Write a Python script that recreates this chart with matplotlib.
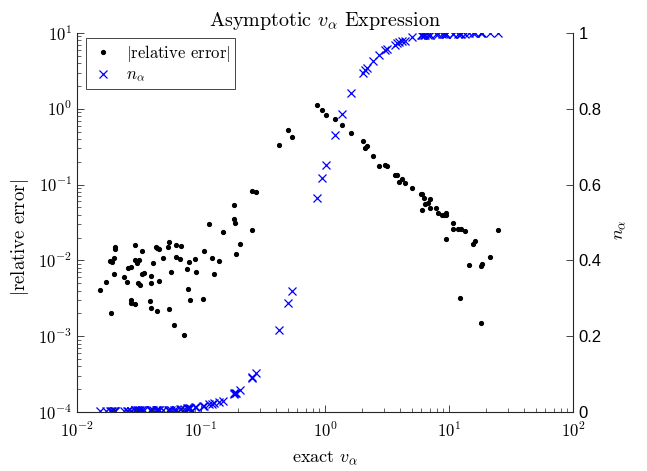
import numpy as np
import matplotlib
matplotlib.use('Agg')
import matplotlib.pyplot as plt
from matplotlib.ticker import FuncFormatter, LogLocator, NullFormatter, FixedLocator

plt.rcParams['mathtext.fontset'] = 'cm'

# exact v_alpha for each sample
v_exact = [
    0.01533, 0.01704, 0.01845, 0.01880, 0.01926, 0.01988, 0.01999, 0.02025, 0.02036, 0.02406,
    0.02544, 0.02577, 0.02710, 0.02725, 0.02730, 0.02919, 0.02935, 0.02953, 0.03031, 0.03122,
    0.03145, 0.03203, 0.03343, 0.03350, 0.03470, 0.03858, 0.03952, 0.03955, 0.03974, 0.04078,
    0.04335, 0.04441, 0.04445, 0.04558, 0.04609, 0.04910, 0.05418, 0.05551, 0.05555, 0.05760,
    0.06022, 0.06252, 0.06287, 0.06809, 0.06936, 0.07253, 0.07669, 0.07812, 0.08003, 0.08153,
    0.08944, 0.09062, 0.1032, 0.1057, 0.1160, 0.1220, 0.1273, 0.1389, 0.1505, 0.1836,
    0.1856, 0.1891, 0.1900, 0.2063, 0.2593, 0.2601, 0.2793, 0.4233, 0.5030, 0.5419,
    0.8572, 0.9458, 1.019, 1.204, 1.379, 1.630, 2.036, 2.101, 2.169, 2.452,
    2.741, 3.031, 3.145, 3.648, 3.807, 3.952, 4.178, 4.392, 5.003, 5.912,
    6.057, 6.090, 6.286, 6.440, 6.810, 7.028, 7.040, 7.857, 8.153, 8.780,
    9.165, 9.406, 9.458, 9.520, 10.71, 10.83, 11.82, 12.34, 12.50, 13.54,
    14.50, 15.53, 16.21, 18.12, 18.25, 18.35, 21.54, 24.70,
]

# |relative error| of the asymptotic expression
rel_err = [
    0.00407, 0.00524, 0.00982, 0.00200, 0.00953, 0.00668, 0.01076, 0.01414, 0.01489, 0.00610,
    0.00519, 0.00787, 0.00300, 0.00277, 0.00811, 0.01596, 0.01021, 0.00266, 0.00924, 0.00499,
    0.01003, 0.00469, 0.01330, 0.00662, 0.00676, 0.00294, 0.00628, 0.00499, 0.00233, 0.00924,
    0.01516, 0.01471, 0.00217, 0.00540, 0.01414, 0.01066, 0.01489, 0.01748, 0.00226, 0.00710,
    0.00141, 0.01119, 0.01611, 0.01053, 0.01563, 0.00104, 0.00770, 0.00423, 0.00944, 0.00298,
    0.01053, 0.00710, 0.00307, 0.01330, 0.03022, 0.01076, 0.00668, 0.00982, 0.02370, 0.03517,
    0.05331, 0.03087, 0.01215, 0.01631, 0.02541, 0.08234, 0.08060, 0.3361, 0.5301, 0.4283,
    1.133, 0.9730, 0.8283, 0.7269, 0.6113, 0.4751, 0.3726, 0.3067, 0.3200, 0.2384,
    0.1743, 0.1830, 0.1759, 0.1351, 0.1350, 0.1082, 0.1186, 0.1040, 0.0910, 0.0759,
    0.0756, 0.0458, 0.0666, 0.0555, 0.0567, 0.0646, 0.0491, 0.0496, 0.0418, 0.0401,
    0.0400, 0.0190, 0.0418, 0.0397, 0.0257, 0.0314, 0.0257, 0.00322, 0.0262, 0.0246,
    0.00877, 0.0165, 0.0182, 0.00836, 0.00149, 0.00905, 0.0112, 0.0252,
]

# n_alpha at the same samples
n_alpha = [
    0.002, 0.003, 0.003, 0.003, 0.003, 0.003, 0.003, 0.003, 0.003, 0.003,
    0.003, 0.003, 0.003, 0.003, 0.003, 0.004, 0.004, 0.004, 0.004, 0.004,
    0.004, 0.004, 0.004, 0.004, 0.004, 0.005, 0.005, 0.005, 0.005, 0.005,
    0.005, 0.005, 0.005, 0.005, 0.005, 0.006, 0.006, 0.006, 0.006, 0.006,
    0.006, 0.006, 0.006, 0.007, 0.007, 0.008, 0.010, 0.011, 0.011, 0.011,
    0.013, 0.013, 0.017, 0.017, 0.021, 0.022, 0.023, 0.026, 0.029, 0.047,
    0.049, 0.050, 0.051, 0.057, 0.091, 0.092, 0.103, 0.216, 0.288, 0.319,
    0.564, 0.618, 0.652, 0.731, 0.785, 0.841, 0.895, 0.902, 0.907, 0.927,
    0.942, 0.955, 0.958, 0.968, 0.973, 0.975, 0.978, 0.980, 0.989, 0.995,
    0.995, 0.995, 0.995, 0.996, 0.996, 0.996, 0.996, 0.997, 0.997, 0.997,
    0.997, 0.997, 0.997, 0.997, 0.998, 0.998, 0.998, 0.998, 0.998, 0.998,
    0.999, 0.999, 0.999, 0.999, 0.999, 0.999, 0.999, 0.999,
]

x_ticks = [1e-2, 1e-1, 1e0, 1e1, 1e2]
err_ticks = [1e-4, 1e-3, 1e-2, 1e-1, 1e0, 1e1]
n_ticks = [0, 0.2, 0.4, 0.6, 0.8, 1]
n_tick_labels = ['0', '0.2', '0.4', '0.6', '0.8', '1']

axis_col = '#262626'
serif = 'cmr10'


def pow10_label(v, pos):
    e = int(round(np.log10(v)))
    return r'$\mathsf{10^{%d}}$' % e


fig = plt.figure(figsize=(6.47, 4.71), dpi=100)
ax = fig.add_axes([77 / 647, 59 / 471, 496 / 647, 379 / 471])
ax2 = ax.twinx()

h_err, = ax.plot(v_exact, rel_err, '.', color='black', markersize=5.5, zorder=3)
h_n, = ax2.plot(v_exact, n_alpha, 'x', color='#0000ff', markersize=6,
                markeredgewidth=0.9, linestyle='none')

ax.set_xscale('log')
ax.set_yscale('log')
ax.set_xlim(1e-2, 1e2)
ax.set_ylim(1e-4, 1e1)
ax2.set_ylim(0, 1)

ax.xaxis.set_major_locator(FixedLocator(x_ticks))
ax.yaxis.set_major_locator(FixedLocator(err_ticks))
ax.xaxis.set_minor_locator(LogLocator(base=10, subs=np.arange(2, 10), numticks=20))
ax.yaxis.set_minor_locator(LogLocator(base=10, subs=np.arange(2, 10), numticks=20))
ax.xaxis.set_major_formatter(FuncFormatter(pow10_label))
ax.yaxis.set_major_formatter(FuncFormatter(pow10_label))
ax.xaxis.set_minor_formatter(NullFormatter())
ax.yaxis.set_minor_formatter(NullFormatter())

ax2.set_yticks(n_ticks)
ax2.set_yticklabels(n_tick_labels, fontfamily='Liberation Sans')

for a in (ax, ax2):
    a.spines['top'].set_visible(False)
    for s in a.spines.values():
        s.set_color(axis_col)
        s.set_linewidth(0.8)
ax.spines['right'].set_visible(False)
ax2.spines['left'].set_visible(False)
ax2.spines['bottom'].set_visible(False)

ax.tick_params(which='major', direction='in', length=5, width=0.6, colors=axis_col,
               labelsize=12, labelcolor='black', top=False, right=False)
ax.tick_params(which='minor', direction='in', length=2.8, width=0.5, colors=axis_col,
               top=False, right=False)
ax.tick_params(axis='x', which='major', pad=7)
ax2.tick_params(which='major', direction='in', length=5, width=0.6, colors=axis_col,
                labelsize=12, labelcolor='black', pad=4)

ax.set_xlabel(r'exact $v_\alpha$', fontsize=13, fontfamily=serif, labelpad=6)
ax.set_ylabel(r'$|$relative error$|$', fontsize=13.5, fontfamily=serif)
ax.yaxis.set_label_coords(-0.092, 0.46)
ax2.set_ylabel(r'$n_\alpha$', fontsize=13, fontfamily=serif)
ax2.yaxis.set_label_coords(1.079, 0.48)
ax.set_title(r'Asymptotic $v_\alpha$ Expression', fontsize=14.5, fontfamily=serif, pad=5)

ax2.set_zorder(1)
ax.set_zorder(2)
ax.patch.set_visible(False)

leg = ax.legend([h_err, h_n], [r'$|$relative error$|$', r'$n_\alpha$'],
                loc='upper left', bbox_to_anchor=(0.018, 0.987), borderaxespad=0,
                prop={'family': serif, 'size': 12}, fancybox=False, framealpha=1,
                edgecolor=axis_col, handlelength=1.5, handletextpad=0.6,
                borderpad=0.3, labelspacing=0.2)
leg.get_frame().set_linewidth(0.6)

fig.savefig('out.png', dpi=100)
